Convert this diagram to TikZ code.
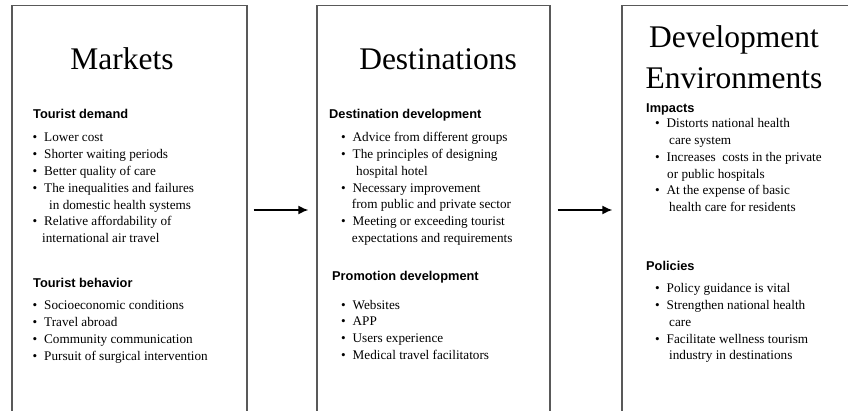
\documentclass[tikz,border=0pt]{standalone}
\usepackage{fontspec}
\setmainfont{Liberation Serif}
\newfontfamily\headfont{Liberation Sans}
\usetikzlibrary{arrows.meta}
\tikzset{
  panel/.style={draw=black!65, line width=1.3pt, rectangle, inner sep=0pt, minimum height=409pt},
  titletext/.style={anchor=base, inner sep=0pt, font=\fontsize{31.5}{36}\selectfont},
  headtext/.style={anchor=base west, inner sep=0pt, font=\headfont\bfseries\fontsize{12.8}{15}\selectfont},
  itemtext/.style={anchor=base west, inner sep=0pt, yshift=-1.5pt, font=\fontsize{13.2}{16}\selectfont},
  flow/.style={-{Latex[length=10pt,width=9pt]}, line width=1.6pt, black},
}
\newcommand{\bul}{\llap{\textbullet\hspace{7pt}}}
\begin{document}
\begin{tikzpicture}[x=1pt,y=-1pt]
\useasboundingbox (0,0) rectangle (848,411);
\clip (0,0) rectangle (848,411);
% panels
\node[panel, minimum width=235pt] (markets) at (129.5,210) {};
\node[panel, minimum width=233pt] (dest) at (433.5,210) {};
\node[panel, minimum width=240pt] (env) at (742,210) {};
% arrows
\draw[flow, shorten <=6pt, shorten >=8pt] (markets.east) -- (dest.west);
\draw[flow, shorten <=7pt, shorten >=9pt] (dest.east) -- (env.west);
% ---- Markets
\node[titletext] (t1) at (122,70) {Markets};
\node[headtext] (h11) at (33,119) {Tourist demand};
\node[itemtext] (a1) at (44,140.5) {\bul Lower cost};
\node[itemtext] (a2) at (44,157.3) {\bul Shorter waiting periods};
\node[itemtext] (a3) at (44,174.1) {\bul Better quality of care};
\node[itemtext] (a4) at (44,190.9) {\bul The inequalities and failures};
\node[itemtext] (a5) at (49,207.7) {in domestic health systems};
\node[itemtext] (a6) at (44,224.5) {\bul Relative affordability of};
\node[itemtext] (a7) at (42,241.3) {international air travel};
\node[headtext] (h12) at (33,288) {Tourist behavior};
\node[itemtext] (b1) at (44,308.5) {\bul Socioeconomic conditions};
\node[itemtext] (b2) at (44,325.3) {\bul Travel abroad};
\node[itemtext] (b3) at (44,342.1) {\bul Community communication};
\node[itemtext] (b4) at (44,358.9) {\bul Pursuit of surgical intervention};
% ---- Destinations
\node[titletext] (t2) at (438,70) {Destinations};
\node[headtext] (h21) at (329,119) {Destination development};
\node[itemtext] (c1) at (352.5,140.5) {\bul Advice from different groups};
\node[itemtext] (c2) at (352.5,157.3) {\bul The principles of designing};
\node[itemtext] (c3) at (356,174.1) {hospital hotel};
\node[itemtext] (c4) at (352.5,190.9) {\bul Necessary improvement};
\node[itemtext] (c5) at (351.7,207.2) {from public and private sector};
\node[itemtext] (c6) at (352.5,224.5) {\bul Meeting or exceeding tourist};
\node[itemtext] (c7) at (351.7,241) {expectations and requirements};
\node[headtext] (h22) at (332,281) {Promotion development};
\node[itemtext] (d1) at (352.5,307.5) {\bul Websites};
\node[itemtext] (d2) at (352.5,324.2) {\bul APP};
\node[itemtext] (d3) at (352.5,340.9) {\bul Users experience};
\node[itemtext] (d4) at (352.5,357.6) {\bul Medical travel facilitators};
% ---- Development Environments
\node[titletext] (t3a) at (734,48) {Development};
\node[titletext] (t3b) at (734,88.5) {Environments};
\node[headtext] (h31) at (646,113) {Impacts};
\node[itemtext] (e1) at (666.5,126.5) {\bul Distorts national health};
\node[itemtext] (e2) at (669,143.2) {care system};
\node[itemtext] (e3) at (666.5,159.9) {\bul Increases\ \ costs in the private};
\node[itemtext] (e4) at (667,176.6) {or public hospitals};
\node[itemtext] (e5) at (666.5,193.3) {\bul At the expense of basic};
\node[itemtext] (e6) at (669,210) {health care for residents};
\node[headtext] (h32) at (646,271) {Policies};
\node[itemtext] (f1) at (666.5,291.5) {\bul Policy guidance is vital};
\node[itemtext] (f2) at (666.5,308.2) {\bul Strengthen national health};
\node[itemtext] (f3) at (669,324.9) {care};
\node[itemtext] (f4) at (666.5,341.6) {\bul Facilitate wellness tourism};
\node[itemtext] (f5) at (669,358.3) {industry in destinations};
\end{tikzpicture}
\end{document}
